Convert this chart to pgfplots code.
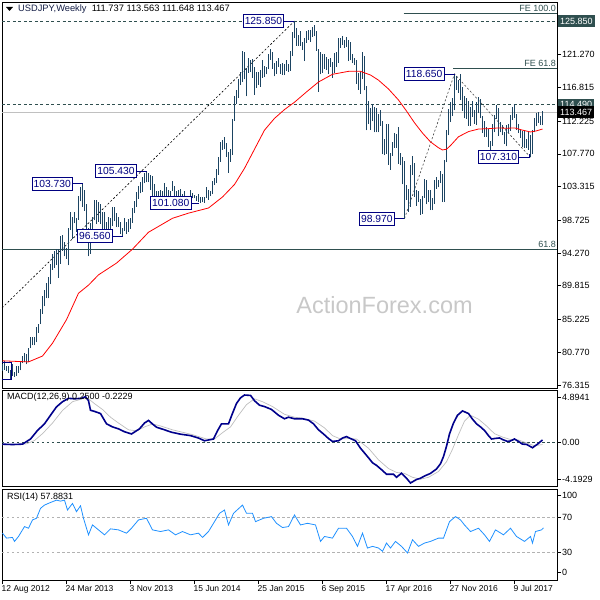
\documentclass[border=0pt]{standalone}
\usepackage{pgfplots}
\pgfplotsset{compat=1.18}
\usepackage{pgfplotstable}
\usepackage{fontspec}
\setmainfont{Liberation Sans}
\definecolor{barcol}{RGB}{28,68,98}
\definecolor{lblnavy}{RGB}{0,0,128}
\definecolor{slate}{RGB}{47,79,79}
\definecolor{macdcol}{RGB}{0,0,139}
\definecolor{sigcol}{RGB}{190,190,190}
\definecolor{rsicol}{RGB}{30,144,255}
\definecolor{wmcol}{RGB}{200,200,200}
\definecolor{titlecol}{RGB}{20,30,70}
\definecolor{curline}{RGB}{192,192,192}

\pgfplotstableread{
i l h
0 78.20 79.20
1 78.40 79.60
2 78.20 78.90
3 77.95 78.90
4 77.13 78.40
5 77.50 79.20
6 77.40 78.10
7 77.60 78.90
8 78.00 78.90
9 78.30 79.60
10 79.30 80.20
11 79.40 80.70
12 79.10 80.50
13 79.50 81.40
14 81.30 82.80
15 81.70 82.80
16 81.70 82.80
17 82.10 84.20
18 83.40 84.60
19 84.60 86.60
20 86.00 88.40
21 87.00 89.30
22 88.10 90.20
23 88.10 91.00
24 90.00 92.80
25 92.00 94.10
26 92.20 94.50
27 92.70 94.80
28 90.90 94.80
29 92.80 96.60
30 94.60 96.70
31 93.80 95.80
32 93.50 95.00
33 92.60 97.70
34 97.40 99.90
35 96.20 99.20
36 98.30 99.90
37 97.10 99.00
38 98.80 102.00
39 101.30 103.30
40 100.60 103.73
41 100.00 102.90
42 96.90 101.00
43 93.80 97.70
44 94.20 98.30
45 96.80 99.20
46 98.70 101.50
47 98.20 101.50
48 98.50 101.20
49 98.20 100.90
50 97.30 99.90
51 96.00 99.90
52 95.80 98.50
53 97.10 99.20
54 96.80 99.10
55 97.90 100.60
56 98.60 100.60
57 97.80 99.70
58 97.80 99.20
59 96.90 98.50
60 96.56 97.70
61 97.30 99.00
62 96.90 98.50
63 97.10 98.90
64 97.60 99.10
65 98.40 100.40
66 99.70 101.40
67 100.60 102.60
68 101.60 103.40
69 102.40 103.90
70 102.60 104.60
71 103.80 105.20
72 103.90 105.43
73 103.90 105.20
74 102.90 104.90
75 102.10 104.80
76 101.80 103.60
77 100.80 102.70
78 101.40 102.70
79 101.60 102.80
80 101.20 102.70
81 101.20 103.80
82 101.20 103.30
83 101.60 102.90
84 101.80 102.70
85 102.70 104.10
86 101.30 103.40
87 101.70 102.70
88 101.90 102.80
89 102.10 103.00
90 101.40 102.30
91 101.10 102.70
92 100.80 101.90
93 101.40 102.00
94 101.80 102.80
95 101.70 102.40
96 101.70 102.20
97 101.40 102.10
98 101.20 102.30
99 101.10 101.90
100 101.20 101.90
101 101.10 101.90
102 101.70 103.20
103 101.50 102.80
104 102.00 102.70
105 102.30 104.10
106 103.50 104.50
107 103.80 105.70
108 104.90 107.40
109 106.70 109.40
110 108.30 109.70
111 108.40 110.10
112 107.40 109.20
113 105.20 108.00
114 106.70 108.40
115 107.60 112.50
116 112.30 115.60
117 114.60 116.40
118 115.40 118.00
119 117.20 118.90
120 117.60 121.80
121 117.90 121.70
122 115.60 119.40
123 118.80 120.80
124 118.90 120.50
125 118.10 120.70
126 115.80 119.60
127 116.70 118.90
128 117.20 118.90
129 116.90 119.20
130 118.10 120.50
131 118.20 119.70
132 118.60 119.60
133 119.30 121.30
134 120.60 122.00
135 119.30 121.60
136 118.30 120.10
137 118.70 120.40
138 119.60 120.80
139 118.70 120.00
140 118.50 120.10
141 118.50 120.00
142 119.10 120.50
143 118.90 120.00
144 119.10 121.80
145 121.10 124.40
146 123.50 125.85
147 122.50 124.90
148 122.50 123.90
149 122.50 124.50
150 121.90 123.00
151 120.40 123.50
152 122.90 124.50
153 123.30 124.60
154 123.00 124.60
155 123.70 125.00
156 123.80 125.30
157 121.80 124.50
158 116.20 122.00
159 118.60 121.70
160 118.80 121.40
161 119.30 121.30
162 119.20 121.00
163 118.70 120.70
164 119.60 120.80
165 118.10 120.30
166 118.80 121.50
167 119.60 121.70
168 120.20 123.60
169 122.20 123.60
170 122.60 123.80
171 122.20 123.20
172 122.30 123.70
173 120.40 123.30
174 120.50 123.00
175 120.10 121.40
176 119.90 120.80
177 117.30 120.50
178 116.50 118.80
179 115.98 118.90
180 118.00 121.70
181 116.40 121.10
182 110.98 117.00
183 111.80 114.90
184 111.00 114.00
185 112.20 114.60
186 110.70 114.20
187 110.70 114.00
188 110.70 113.20
189 111.60 113.80
190 107.70 112.20
191 107.60 109.80
192 107.80 111.90
193 106.30 111.90
194 105.60 107.90
195 107.50 109.40
196 108.60 110.60
197 108.60 110.50
198 106.40 111.40
199 106.20 107.90
200 103.60 107.30
201 98.97 106.80
202 101.50 103.50
203 99.90 103.00
204 100.60 106.30
205 104.90 107.50
206 101.90 106.50
207 100.70 102.80
208 101.20 102.70
209 99.50 101.60
210 99.60 102.00
211 101.80 104.30
212 100.90 104.20
213 101.20 102.80
214 100.10 102.80
215 100.10 101.80
216 101.00 104.20
217 103.00 104.60
218 103.20 104.20
219 103.80 105.50
220 101.20 105.00
221 101.20 106.90
222 106.60 111.00
223 110.30 113.90
224 112.10 114.80
225 112.90 115.40
226 113.70 118.65
227 116.50 118.30
228 116.10 117.80
229 115.10 118.60
230 113.60 116.90
231 112.60 115.60
232 112.50 115.40
233 111.60 115.00
234 111.60 114.20
235 112.80 114.95
236 111.90 113.80
237 111.70 114.80
238 113.30 115.50
239 112.60 115.20
240 110.60 112.90
241 110.10 112.20
242 110.10 111.40
243 108.70 111.10
244 108.10 109.50
245 108.90 111.80
246 110.70 113.00
247 112.50 114.40
248 110.20 114.00
249 110.70 112.10
250 110.30 111.70
251 109.10 110.80
252 108.80 111.70
253 110.60 111.80
254 110.90 113.00
255 112.40 114.20
256 112.70 114.50
257 111.00 113.20
258 110.60 111.90
259 109.90 111.10
260 108.70 110.90
261 108.60 110.90
262 108.60 109.80
263 108.30 110.70
264 107.31 110.30
265 107.80 111.00
266 110.70 112.70
267 111.50 113.30
268 112.00 113.40
269 111.70 112.90
270 111.648 113.563
}\price

\pgfplotstableread{
i v
0 79.6
13 79.45
20 80.25
25 82.0
32 85.2
38 88.8
43 89.9
48 91.3
57 92.9
65 94.8
73 97.1
85 99.0
93 99.7
103 100.4
110 101.9
116 103.6
121 105.8
126 108.4
131 111.0
136 112.6
141 113.8
146 114.8
152 116.2
158 117.55
165 118.6
173 119.0
179 119.0
184 118.5
188 117.8
193 116.6
198 115.1
202 113.6
206 112.0
210 110.6
214 109.4
218 108.6
220 108.3
222 108.4
224 108.9
228 110.1
233 110.8
238 111.15
243 111.2
248 111.3
252 111.25
256 111.3
260 111.0
264 110.75
267 110.9
270 111.15
}\ma

\pgfplotstableread{
i v
0 -0.18
5 -0.22
10 -0.18
14 0.35
17.5 1.23
21 1.92
24 2.8
27 3.67
30 4.2
33 4.55
36 4.5
39.5 4.55
41.5 4.72
43 4.3
44 3.32
46 3.2
49 2.98
52 1.92
55 1.6
58 1.40
61 1.1
64.5 0.87
68.5 1.40
71 2.0
73 2.27
75 1.9
77 1.57
81 1.3
84.5 1.05
89 0.85
94 0.70
98 0.45
101 0.17
105.5 0.35
107.5 1.2
109.5 1.92
113 1.92
115 3.0
117 4.02
119 4.6
121 4.89
124 4.85
126 4.3
128.5 3.84
131 3.7
134.5 3.40
138 2.8
141 2.44
143 2.6
146 2.44
150 2.44
153 2.3
155.5 1.92
158 1.3
160.5 0.87
163 0.4
165 0.10
168 0.17
170 0.45
172 0.60
174 0.4
176.5 0.17
179 -0.6
182.5 -1.46
185 -2.1
187 -2.37
190 -2.9
192 -3.29
195.5 -3.29
197 -3.6
199.5 -3.18
202 -3.7
204 -4.19
207 -3.83
209 -3.7
211 -3.47
214 -3.2
217 -2.74
219 -2.2
220.5 -1.46
222 -0.4
223.5 0.87
225.5 2.0
227.5 2.80
230 3.25
233 2.98
235 2.4
237 1.92
239 1.6
241 1.23
243 0.7
244.5 0.35
246 0.4
248.5 0.46
250 0.3
252.5 0.10
254 0.15
256 0.35
258 0.1
260 -0.18
262 -0.2
265 -0.55
267.5 -0.18
270 0.25
}\macd

\pgfplotstableread{
i v
0 -0.25
6 -0.25
12 -0.15
16 0.2
20 0.9
25 2.0
30 3.3
35 4.2
40 4.5
43 4.5
46 4.0
50 3.4
54 2.6
58 2.0
63 1.3
67 1.2
71 1.6
75 1.9
79 1.7
85 1.3
95 0.8
102 0.35
106 0.35
110 1.0
114 1.6
118 2.8
122 3.9
126 4.5
130 4.2
135 3.7
141 2.9
146 2.6
150 2.5
156 2.2
161 1.5
165 0.7
169 0.35
173 0.4
177 0.35
183 -0.6
188 -1.8
193 -2.7
197 -3.1
201 -3.2
205 -3.6
209 -3.8
213 -3.6
218 -3.0
222 -2.0
225 -0.7
228 0.8
231 2.2
234 2.8
238 2.4
242 1.7
246 0.9
250 0.55
254 0.3
258 0.25
262 -0.05
266 -0.35
270 -0.22
}\signal

\pgfplotstableread{
i v
0 51.7
2 46
5 46.8
6 42.2
8 47.9
11 59.3
13 57.4
15 67
17 68.9
19 80.3
21 84.1
24 87.1
27 89.8
29 88.7
31 89.8
32.5 78.4
35 86
37 76.5
39 83.3
40.5 68.9
43 49.8
45 61.2
48 55.5
51 49.8
54 56.7
58 55.5
62 51.7
64.5 57.4
68 67
72 68.9
75 55.5
79 53.6
83 55.5
86.5 49.8
90 53.6
94 49.8
98 51.7
100 46.8
103 53.6
106 65
108.5 74.6
111 78.4
113 61.2
115.5 74.6
120 84.1
122 74.6
125 74.6
126.5 65
130.5 68.9
134.5 70.8
137 63.1
140 58.2
143 59.3
146 72.7
149 61.2
152.5 63.1
156.5 61.2
159 42.2
161 47.9
165 46
168 57.4
172 57.4
175 47.9
177.5 36.5
180 51.7
182.5 34.6
185 36.5
188 34.6
190 30.8
192 40.3
194 34.6
196.5 42.2
199.5 36.5
202.5 28.9
205 44.1
208 36.5
211 40.3
214 42.2
218 46
220.5 46
223.5 65
226.5 70.8
229 67
231 61.2
234 53.6
238 57.4
241 49.8
243.5 42.2
246.5 55.5
250.5 49.8
254 57.4
257 47.9
261 42.2
264 47.9
265 40.3
266.5 53.6
269.5 55.5
270.5 57.9
}\rsi

\newcommand{\tf}{\fontsize{9}{10}\selectfont}
\pgfplotsset{
  panel/.style={scale only axis, width=555pt, xmin=-0.25, xmax=277.25, clip=false,
    axis line style={black, line width=0.8pt}, tick style={black, line width=0.6pt},
    major tick length=4pt, tick align=outside, ytick pos=right, yticklabel pos=right,
    yticklabel style={font=\tf, anchor=west, inner sep=1pt}, xtick=\empty},
}
\tikzset{
  lbox/.style={draw=lblnavy, fill=white, text=lblnavy, font=\fontsize{10.3}{11}\selectfont,
    inner xsep=1.5pt, inner ysep=0pt, minimum height=13pt, line width=0.8pt, anchor=east},
  conn/.style={lblnavy, line width=0.8pt},
  pbox/.style={anchor=west, font=\tf, text=white, inner xsep=2pt, inner ysep=1.5pt, minimum height=12pt},
}

\begin{document}
\begin{tikzpicture}
\path[use as bounding box] (0pt,0pt) rectangle (600pt,600pt);
% ---------------- price panel
\begin{axis}[panel, at={(2pt,212pt)}, anchor=south west, height=386pt,
  ymin=75.90, ymax=128.44,
  ytick={76.315,80.77,85.225,89.815,94.27,98.725,103.315,107.77,112.225,116.815,121.27,125.85},
  yticklabels={76.315,80.770,85.225,89.815,94.270,98.725,103.315,107.770,112.225,116.815,121.270,{}}]
% watermark
\node[text=wmcol, font=\fontsize{23.5}{24}\selectfont] at (axis cs:191,87.2) {ActionForex.com};
% horizontal levels
\addplot[curline, line width=0.8pt] coordinates {(-0.25,113.467) (277.25,113.467)};
\addplot[slate, line width=0.8pt, dash pattern=on 3pt off 2.5pt] coordinates {(-0.25,125.85) (277.25,125.85)};
\addplot[slate, line width=0.8pt, dash pattern=on 3pt off 2.5pt] coordinates {(-0.25,114.49) (277.25,114.49)};
\addplot[slate, line width=0.8pt] coordinates {(-0.25,94.80) (277.25,94.80)};
\addplot[slate, line width=0.8pt] coordinates {(200.5,126.92) (277.25,126.92)};
\addplot[slate, line width=0.8pt] coordinates {(225.4,119.43) (277.25,119.43)};
\node[anchor=south east, font=\tf, text=slate, inner sep=1pt] at (axis cs:277.25,94.80) {61.8};
\node[anchor=south east, font=\tf, text=slate, inner sep=1pt] at (axis cs:277.25,126.92) {FE 100.0};
\node[anchor=south east, font=\tf, text=slate, inner sep=1pt] at (axis cs:277.25,119.43) {FE 61.8};
% trend lines
\addplot[black, line width=0.6pt, dash pattern=on 2pt off 2pt] coordinates {(-0.25,86.79) (146,125.85)};
\addplot[black!75, line width=0.6pt, dash pattern=on 2pt off 2pt] coordinates {(201,98.97) (226,118.65) (264,107.31)};
% bars
\addplot[draw=none, forget plot, error bars/.cd, y dir=plus, y explicit, error mark=none,
  error bar style={draw=barcol, line width=1pt, solid}]
  table[x=i, y=l, y error expr=\thisrow{h}-\thisrow{l}] {\price};
% moving average
\addplot[red, line width=0.8pt] table[x=i, y=v] {\ma};
% label boxes
\addplot[conn] coordinates {(35.1,103.73) (40.1,103.73)};
\node[lbox] at (axis cs:35.1,103.73) {103.730};
\addplot[conn] coordinates {(67,105.43) (72,105.43)};
\node[lbox] at (axis cs:67,105.43) {105.430};
\addplot[conn] coordinates {(55,96.56) (60,96.56)};
\node[lbox] at (axis cs:55,96.56) {96.560};
\addplot[conn] coordinates {(94.4,101.08) (98.4,101.08)};
\node[lbox] at (axis cs:94.4,101.08) {101.080};
\addplot[conn] coordinates {(140.7,125.85) (145.7,125.85)};
\node[lbox] at (axis cs:140.7,125.85) {125.850};
\addplot[conn] coordinates {(220.9,118.65) (226.2,118.65)};
\node[lbox] at (axis cs:220.9,118.65) {118.650};
\addplot[conn] coordinates {(258.3,107.31) (263.5,107.31) (263.5,107.8)};
\node[lbox] at (axis cs:258.3,107.31) {107.310};
\addplot[conn] coordinates {(196,98.97) (200.5,98.97)};
\node[lbox] at (axis cs:196,98.97) {98.970};
\draw[conn] (axis cs:-0.25,77.13) -| (axis cs:4.5,79.44) -- (axis cs:-0.25,79.44);
% right price boxes
\node[pbox, fill=slate] at (axis cs:277.25,125.85) [xshift=1pt] {125.850};
\node[pbox, fill=slate] at (axis cs:277.25,114.44) [xshift=1pt] {114.490};
\node[pbox, fill=black] at (axis cs:277.25,113.40) [xshift=1pt] {113.467};
% title
\fill[black] (rel axis cs:0,1) ++(4pt,-5pt) -- ++(7pt,0pt) -- ++(-3.5pt,-4pt) -- cycle;
\node[anchor=west, font=\fontsize{9.3}{10}\selectfont, inner sep=0pt] at (rel axis cs:0,1) [xshift=16pt, yshift=-7.5pt]
  {\textcolor{titlecol}{USDJPY,Weekly}\ \ 111.737 113.563 111.648 113.467};
\end{axis}
% ---------------- MACD panel
\begin{axis}[panel, at={(2pt,114pt)}, anchor=south west, height=96pt,
  ymin=-4.50, ymax=5.41,
  ytick={-3.81,0,4.69}, yticklabels={-4.1929,0.00,4.8941}]
\addplot[slate, line width=0.6pt, dash pattern=on 2.5pt off 2.5pt] coordinates {(-0.25,0) (277.25,0)};
\addplot[sigcol, line width=0.7pt] table[x=i, y=v] {\signal};
\addplot[macdcol, line width=1.6pt] table[x=i, y=v] {\macd};
\node[anchor=north west, font=\tf, inner sep=0pt] at (rel axis cs:0,1) [xshift=5pt, yshift=-3pt] {MACD(12,26,9) 0.2500 -0.2229};
\end{axis}
% ---------------- RSI panel
\begin{axis}[panel, at={(2pt,20pt)}, anchor=south west, height=91pt,
  ymin=-2.3, ymax=102.65,
  ytick={7,30,70,95.1}, yticklabels={0,30,70,100},
  xtick={0,32,64,96,128,160,192,224,256}, xtick pos=bottom,
  xticklabels={12 Aug 2012,24 Mar 2013,3 Nov 2013,15 Jun 2014,25 Jan 2015,6 Sep 2015,17 Apr 2016,27 Nov 2016,9 Jul 2017},
  xticklabel style={anchor=north west, inner sep=0pt, xshift=-1pt, yshift=-1pt, font=\fontsize{8.5}{9}\selectfont}]
\addplot[black!30, line width=0.6pt, dash pattern=on 2.5pt off 2.5pt] coordinates {(-0.25,70) (277.25,70)};
\addplot[black!30, line width=0.6pt, dash pattern=on 2.5pt off 2.5pt] coordinates {(-0.25,30) (277.25,30)};
\addplot[rsicol, line width=0.8pt] table[x=i, y=v] {\rsi};
\node[anchor=north west, font=\tf, inner sep=0pt] at (rel axis cs:0,1) [xshift=5pt, yshift=-4pt] {RSI(14) 57.8831};
\end{axis}
\end{tikzpicture}
\end{document}
